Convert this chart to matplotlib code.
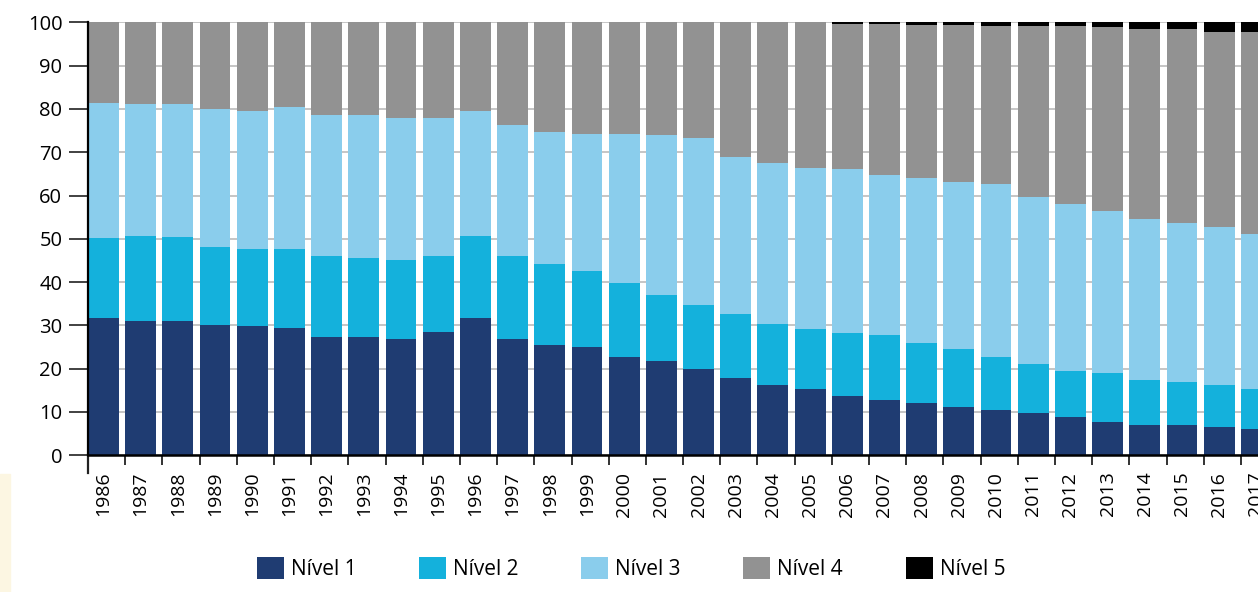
import numpy as np
import matplotlib.pyplot as plt
from matplotlib.patches import Rectangle

plt.rcParams['font.family'] = ['Open Sans', 'DejaVu Sans']

years = [str(y) for y in range(1986, 2018)]

# share of each level per year (%)
nivel1 = [31.6, 31.0, 30.9, 30.0, 29.9, 29.4, 27.2, 27.3, 26.8, 28.5, 31.6,
          26.8, 25.4, 25.0, 22.6, 21.7, 20.0, 17.9, 16.3, 15.2, 13.6, 12.8,
          12.1, 11.0, 10.3, 9.7, 8.7, 7.7, 7.0, 7.0, 6.4, 5.9]
nivel2 = [18.5, 19.7, 19.4, 18.2, 17.7, 18.2, 18.8, 18.2, 18.2, 17.6, 19.1,
          19.3, 18.7, 17.5, 17.2, 15.4, 14.6, 14.7, 14.1, 14.0, 14.7, 15.0,
          13.7, 13.6, 12.3, 11.3, 10.8, 11.2, 10.4, 9.8, 9.9, 9.4]
nivel3 = [31.3, 30.5, 30.9, 31.7, 31.9, 32.8, 32.6, 33.1, 32.9, 31.9, 28.8,
          30.2, 30.6, 31.8, 34.4, 36.8, 38.6, 36.4, 37.0, 37.1, 37.9, 37.0,
          38.2, 38.5, 40.1, 38.6, 38.5, 37.6, 37.1, 36.8, 36.4, 35.8]
nivel4 = [18.6, 18.8, 18.8, 20.1, 20.5, 19.6, 21.4, 21.4, 22.1, 22.0, 20.5,
          23.7, 25.3, 25.7, 25.8, 26.1, 26.8, 31.0, 32.6, 33.7, 33.4, 34.8,
          35.5, 36.3, 36.4, 39.5, 41.1, 42.4, 44.0, 44.9, 45.2, 46.7]
nivel5 = [0, 0, 0, 0, 0, 0, 0, 0, 0, 0, 0,
          0, 0, 0, 0, 0, 0, 0, 0, 0, 0.4, 0.4,
          0.5, 0.6, 0.9, 0.9, 0.9, 1.1, 1.5, 1.5, 2.1, 2.2]

series = [nivel1, nivel2, nivel3, nivel4, nivel5]
labels = ['Nível 1', 'Nível 2', 'Nível 3', 'Nível 4', 'Nível 5']
colors = ['#1f3c72', '#14b1dc', '#8acdec', '#929292', '#000000']

fig = plt.figure(figsize=(12.58, 5.92), dpi=100)

# faint cream tint in the lower-left corner of the original
fig.patches.append(Rectangle((0, 0), 0.008, 0.2, transform=fig.transFigure,
                             color='#fcf6e2', zorder=0))

ax = fig.add_axes([0.07, 0.2314, 0.946, 0.7306])

x = np.arange(len(years))
bottom = np.zeros(len(years))
for vals, lab, col in zip(series, labels, colors):
    ax.bar(x, vals, width=0.83, bottom=bottom, align='edge', color=col,
           label=lab, zorder=2, linewidth=0)
    bottom += np.array(vals)

ax.set_xlim(0, len(years))
ax.set_ylim(0, 100)
ax.set_yticks(range(0, 101, 10))
ax.yaxis.grid(True, color='#c0c0c0', linewidth=1.3, zorder=0)
ax.set_axisbelow(True)

ax.set_xticks(x)
ax.set_xticklabels([])
ax.set_xticks(x + 0.415, minor=True)
ax.set_xticklabels(years, minor=True, rotation=90, fontsize=14, va='top')
ax.tick_params(axis='x', which='minor', length=0, pad=12)
ax.tick_params(axis='x', which='major', length=7, width=1.3, color='#222222')
ax.tick_params(axis='y', length=13.5, width=1.3, color='#333333', pad=5,
               labelsize=14.5)

for s in ['top', 'right']:
    ax.spines[s].set_visible(False)
ax.spines['left'].set_linewidth(1.6)
ax.spines['bottom'].set_linewidth(1.8)
ax.spines['bottom'].set_zorder(3)
ax.plot([0, 0], [0, -0.042], transform=ax.transAxes, color='#222222',
        linewidth=1.6, clip_on=False)

fig.legend(loc='center', bbox_to_anchor=(0.5016, 0.04), ncol=5, frameon=False,
           fontsize=15, handlelength=1.3, handleheight=1.3,
           handletextpad=0.34, columnspacing=3.0)

fig.savefig('out.png', dpi=100)
